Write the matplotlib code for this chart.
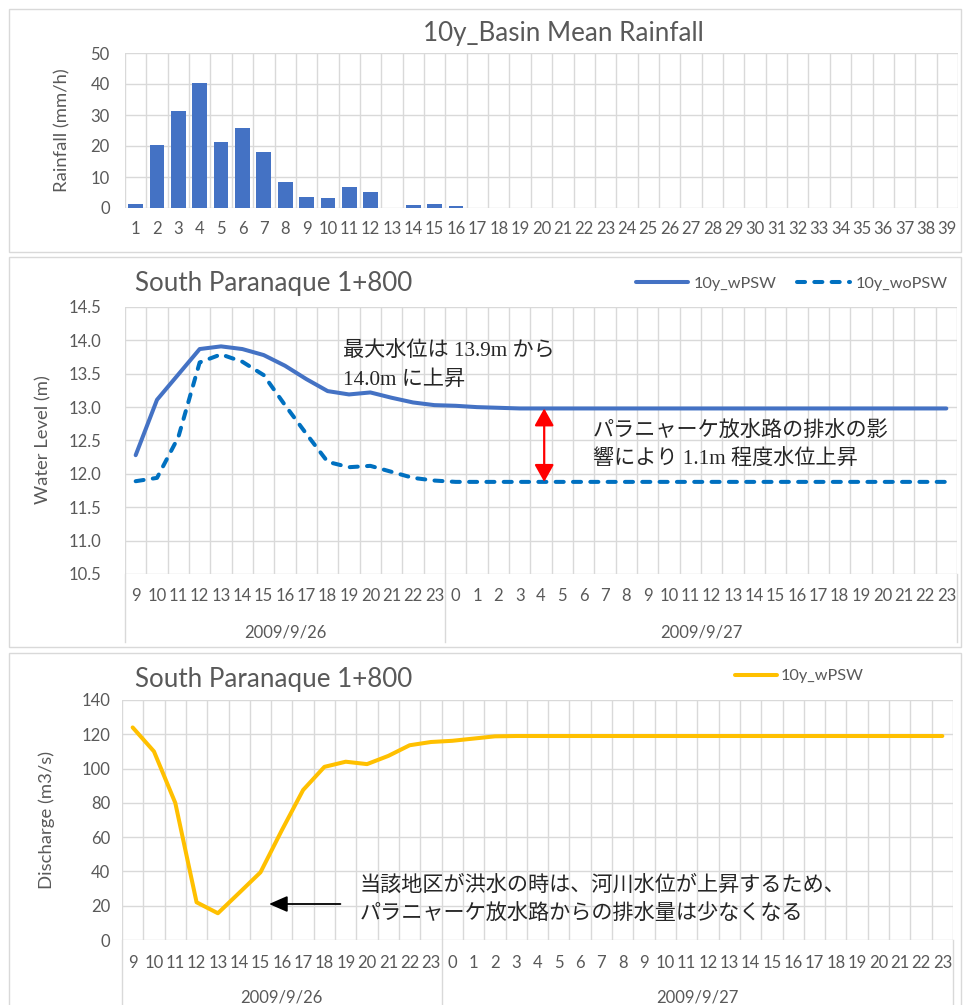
import matplotlib
matplotlib.use("Agg")
import matplotlib.pyplot as plt
import matplotlib.transforms as mtransforms
import matplotlib.ticker as mticker
from matplotlib.patches import Rectangle
from matplotlib.lines import Line2D

# ---------------------------------------------------------------- data
rain_steps = [str(i) for i in range(1, 40)]
rainfall = [1.2, 20.4, 31.2, 40.4, 21.2, 25.7, 18.1, 8.5, 3.5, 3.2,
            6.7, 5.1, 0.0, 1.0, 1.3, 0.6, 0.0, 0.0, 0.0, 0.0,
            0.0, 0.0, 0.0, 0.0, 0.0, 0.0, 0.0, 0.0, 0.0, 0.0,
            0.0, 0.0, 0.0, 0.0, 0.0, 0.0, 0.0, 0.0, 0.0]

hour_labels = ["9", "10", "11", "12", "13", "14", "15", "16", "17", "18",
               "19", "20", "21", "22", "23",
               "0", "1", "2", "3", "4", "5", "6", "7", "8", "9", "10", "11",
               "12", "13", "14", "15", "16", "17", "18", "19", "20", "21",
               "22", "23"]
date_labels = ["2009/9/26", "2009/9/27"]
date_hours = [15, 24]

level_wpsw = [12.28, 13.11, 13.49, 13.87, 13.91, 13.87, 13.78, 13.62, 13.42, 13.24,
              13.19, 13.22, 13.14, 13.07, 13.03, 13.02, 13.00, 12.99, 12.98, 12.98,
              12.98, 12.98, 12.98, 12.98, 12.98, 12.98, 12.98, 12.98, 12.98, 12.98,
              12.98, 12.98, 12.98, 12.98, 12.98, 12.98, 12.98, 12.98, 12.98]
level_wopsw = [11.89, 11.94, 12.55, 13.67, 13.79, 13.68, 13.48, 13.03, 12.60, 12.18,
               12.10, 12.12, 12.03, 11.94, 11.90, 11.88, 11.88, 11.88, 11.88, 11.88,
               11.88, 11.88, 11.88, 11.88, 11.88, 11.88, 11.88, 11.88, 11.88, 11.88,
               11.88, 11.88, 11.88, 11.88, 11.88, 11.88, 11.88, 11.88, 11.88]
discharge_wpsw = [124.0, 110.0, 80.0, 22.0, 15.6, 27.5, 39.5, 64.0, 87.5, 101.0,
                  104.0, 102.6, 107.4, 113.6, 115.5, 116.2, 117.5, 118.8, 119.0, 119.0,
                  119.0, 119.0, 119.0, 119.0, 119.0, 119.0, 119.0, 119.0, 119.0, 119.0,
                  119.0, 119.0, 119.0, 119.0, 119.0, 119.0, 119.0, 119.0, 119.0]

# ---------------------------------------------------------------- style
W, H, DPI = 966, 1005, 100
GRID = "#D9D9D9"
TXT = "#595959"
BLUE = "#4472C4"
BLUE_D = "#0070C0"
GOLD = "#FFC000"
JP = ["Liberation Serif", "Noto Sans CJK JP"]
JP_SIZE = 15.2
TITLE_SIZE = 18.7
LABEL_SIZE = 13.3
LEGEND_SIZE = 11.7

plt.rcParams["font.family"] = ["Lato", "DejaVu Sans"]
plt.rcParams["axes.unicode_minus"] = False

fig = plt.figure(figsize=(W / DPI, H / DPI), dpi=DPI, facecolor="white")


def fx(px):
    return px / W


def fy(py):
    return 1 - py / H


def add_ax(left, top, right, bottom):
    return fig.add_axes([fx(left), fy(bottom), (right - left) / W, (bottom - top) / H])


def frame(top, bottom, left=9, right=961):
    fig.patches.append(Rectangle((fx(left), fy(bottom)), (right - left) / W,
                                 (bottom - top) / H, transform=fig.transFigure,
                                 facecolor="white", edgecolor=GRID, lw=1.0,
                                 zorder=-5))


def style_axes(ax, n, ylim, yticks, ypad):
    ax.set_xlim(-0.5, n - 0.5)
    ax.set_ylim(*ylim)
    ax.set_yticks(yticks)
    ax.set_xticks(range(n))
    ax.set_xticks([i - 0.5 for i in range(n + 1)], minor=True)
    ax.grid(True, which="minor", axis="x", color=GRID, lw=1.0)
    ax.grid(True, which="major", axis="y", color=GRID, lw=1.0)
    ax.set_axisbelow(True)
    for s in ax.spines.values():
        s.set_visible(False)
    ax.tick_params(which="both", length=0, colors=TXT, labelsize=12)
    ax.tick_params(axis="y", pad=ypad)
    ax.set_facecolor("none")


def two_level_axis(ax, pad_px, label_off, sep_len):
    # hour labels on the first level, dates on the second
    ax.set_xticklabels(hour_labels)
    ax.tick_params(axis="x", pad=pad_px)
    trans = mtransforms.blended_transform_factory(ax.transData, ax.transAxes)
    start = 0
    bounds = [-0.5]
    for lab, cnt in zip(date_labels, date_hours):
        mid = start + cnt / 2 - 0.5
        ax.text(mid, label_off, lab, transform=trans, ha="center", va="center",
                color=TXT, fontsize=12)
        start += cnt
        bounds.append(start - 0.5)
    for b in bounds:
        ax.add_line(Line2D([b, b], [0, sep_len], transform=trans, color=GRID,
                           lw=1.0, clip_on=False))


# ---------------------------------------------------------------- panel frames
frame(9, 252)
frame(257, 647)
frame(653, 1012)

# ---------------------------------------------------------------- rainfall
ax1 = add_ax(125, 53, 958, 208)
style_axes(ax1, len(rainfall), (0, 50), range(0, 51, 10), 11)
ax1.bar(range(len(rainfall)), rainfall, width=0.69, color=BLUE, zorder=3)
ax1.set_xticklabels(rain_steps)
ax1.tick_params(axis="x", pad=9)
fig.text(fx(563), fy(33), "10y_Basin Mean Rainfall", ha="center", va="center",
         color=TXT, fontsize=TITLE_SIZE)
fig.text(fx(62), fy(130), "Rainfall (mm/h)", rotation=90, ha="center",
         va="center", color=TXT, fontsize=LABEL_SIZE)

# ---------------------------------------------------------------- water level
ax2 = add_ax(125, 307, 957, 574)
style_axes(ax2, len(level_wpsw), (10.5, 14.5),
           [10.5 + 0.5 * k for k in range(9)], 17)
ax2.yaxis.set_major_formatter(mticker.FormatStrFormatter("%.1f"))
x2 = range(len(level_wpsw))
ax2.plot(x2, level_wpsw, color=BLUE, lw=2.9, solid_capstyle="round",
         solid_joinstyle="round", label="10y_wPSW", zorder=4)
ax2.plot(x2, level_wopsw, color=BLUE_D, lw=2.9, dashes=(2.0, 2.3),
         dash_capstyle="round", label="10y_woPSW", zorder=4)
two_level_axis(ax2, 10, -0.218, -0.255)

k = 19
ax2.annotate("", xy=(k + 0.15, level_wpsw[k]), xytext=(k + 0.15, level_wopsw[k]),
             arrowprops=dict(arrowstyle="<|-|>,head_length=0.75,head_width=0.42",
                             mutation_scale=14, color="#FF0000", lw=1.6,
                             shrinkA=0, shrinkB=0), zorder=5)

fig.text(fx(343), fy(351), "最大水位は 13.9m から", ha="left", va="center",
         family=JP, fontsize=JP_SIZE, color="#262626")
fig.text(fx(343), fy(380), "14.0m に上昇", ha="left", va="center",
         family=JP, fontsize=JP_SIZE, color="#262626")
fig.text(fx(593), fy(432), "パラニャーケ放水路の排水の影", ha="left", va="center",
         family=JP, fontsize=JP_SIZE, color="#262626")
fig.text(fx(593), fy(460), "響により 1.1m 程度水位上昇", ha="left", va="center",
         family=JP, fontsize=JP_SIZE, color="#262626")

fig.text(fx(135), fy(283), "South Paranaque 1+800", ha="left", va="center",
         color=TXT, fontsize=TITLE_SIZE)
fig.text(fx(43), fy(440), "Water Level (m)", rotation=90, ha="center",
         va="center", color=TXT, fontsize=LABEL_SIZE)
fig.legend(handles=ax2.get_lines()[:2], loc="center right",
           bbox_to_anchor=(fx(948), fy(284)), ncol=2, frameon=False,
           fontsize=LEGEND_SIZE, handlelength=3.25, handletextpad=0.35,
           columnspacing=1.25, labelcolor=TXT, borderaxespad=0, borderpad=0)

# ---------------------------------------------------------------- discharge
ax3 = add_ax(122, 700, 953, 940)
style_axes(ax3, len(discharge_wpsw), (0, 140), range(0, 141, 20), 8.6)
x3 = range(len(discharge_wpsw))
ax3.plot(x3, discharge_wpsw, color=GOLD, lw=2.9, solid_capstyle="round",
         solid_joinstyle="round", label="10y_wPSW", zorder=4)
two_level_axis(ax3, 11, -0.24, -0.3)

ax3.annotate("", xy=(6.4, 21), xytext=(9.75, 21),
             arrowprops=dict(arrowstyle="-|>,head_length=0.8,head_width=0.35",
                             mutation_scale=14, color="black", lw=1.3,
                             shrinkA=0, shrinkB=0), zorder=5)
fig.text(fx(360), fy(886), "当該地区が洪水の時は、河川水位が上昇するため、",
         ha="left", va="center", family=JP, fontsize=JP_SIZE, color="#262626")
fig.text(fx(360), fy(915), "パラニャーケ放水路からの排水量は少なくなる",
         ha="left", va="center", family=JP, fontsize=JP_SIZE, color="#262626")

fig.text(fx(135), fy(679), "South Paranaque 1+800", ha="left", va="center",
         color=TXT, fontsize=TITLE_SIZE)
fig.text(fx(47), fy(820), "Discharge (m3/s)", rotation=90, ha="center",
         va="center", color=TXT, fontsize=LABEL_SIZE)
fig.legend(handles=ax3.get_lines()[:1], loc="center left",
           bbox_to_anchor=(fx(735), fy(676)), frameon=False,
           fontsize=LEGEND_SIZE, handlelength=2.6, handletextpad=0.2,
           labelcolor=TXT, borderaxespad=0, borderpad=0)

fig.savefig("out.png", dpi=DPI, facecolor="white")
